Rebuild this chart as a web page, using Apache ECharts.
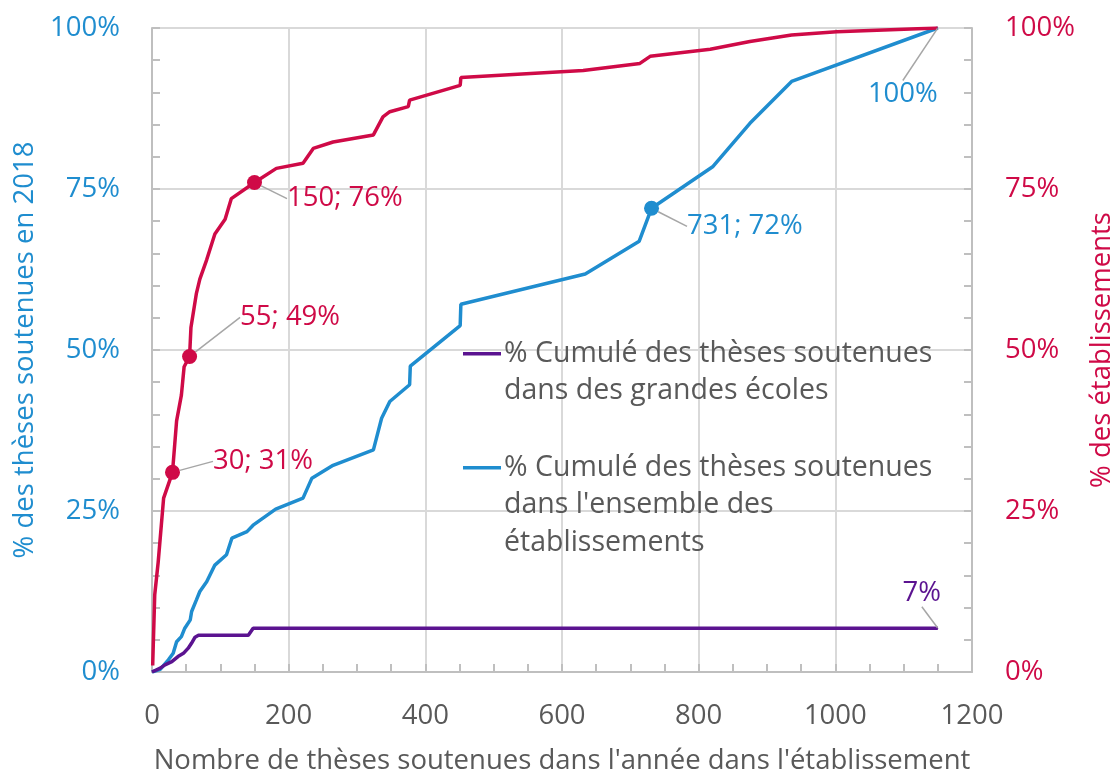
<!DOCTYPE html>
<html>
<head>
<meta charset="utf-8">
<script src="https://cdn.jsdelivr.net/npm/echarts@6/dist/echarts.min.js"></script>
<style>
html,body{margin:0;padding:0;background:#fff;}
#chart{width:1118px;height:778px;}
</style>
</head>
<body>
<div id="chart"></div>
<script>
// % cumulé des établissements (axe de droite)
var etabX   = [1, 4, 9, 17, 30, 36, 43, 47, 55, 57, 65, 70, 80, 92, 107, 116, 150, 182, 221, 236, 265, 324, 338, 348, 375, 377, 451, 452, 631, 714, 729, 817, 875, 936, 1002, 1150];
var etabPct = [1, 12, 17, 27, 31, 39, 43, 47.4, 49, 53.5, 58.8, 61, 64, 68, 70.3, 73.5, 76, 78.2, 79, 81.3, 82.3, 83.4, 86.2, 87, 87.8, 88.8, 91.1, 92.3, 93.4, 94.5, 95.6, 96.7, 97.9, 98.9, 99.4, 100];
// % cumulé des thèses, ensemble des établissements (axe de gauche)
var allX   = [0, 12, 24, 31, 36, 43, 48, 56, 58, 65, 70, 80, 92, 109, 117, 139, 148, 181, 221, 234, 265, 324, 336, 348, 377, 378, 451, 452, 634, 713, 731, 821, 875, 936, 1150];
var allPct = [0, 0.4, 1.9, 2.9, 4.7, 5.5, 6.8, 8.1, 9.4, 11.2, 12.5, 14, 16.6, 18.2, 20.8, 21.8, 22.8, 25.3, 27, 30.1, 32.1, 34.5, 39.4, 42, 44.6, 47.5, 53.8, 57.1, 61.8, 66.9, 72, 78.5, 85.2, 91.7, 100];
// % cumulé des thèses, grandes écoles (axe de gauche)
var geX   = [0, 12, 19, 29, 38, 46, 53, 58, 63, 68, 141, 148, 1150];
var gePct = [0, 0.6, 1.1, 1.6, 2.4, 2.9, 3.7, 4.5, 5.4, 5.7, 5.7, 6.8, 6.8];

// points étiquetés
var etabLabelled = [30, 55, 150];
var allLabelled = [731];
var endLabelled = [1150];

var nameEtab = '% des établissements';
var nameAll = "% Cumulé des thèses soutenues dans l'ensemble des établissements";
var nameGe = '% Cumulé des thèses soutenues dans des grandes écoles';

var BLUE = '#1f8dcf', RED = '#cf0a47', PURPLE = '#5b1390', GREY = '#595959';
var FONT = 'Open Sans';

// décalages des étiquettes (dx, dy), par série
var offEtab = {30: [28, -11], 55: [38, -39], 150: [20, 16]};
var offAll = {731: [23, 18], 1150: [-35, 47]};
var offGe = {1150: [-16, -16]};

function build(xs, ys, pointed, ends) {
  return xs.map(function (x, i) {
    var item = {value: [x, ys[i]]};
    if (pointed.indexOf(x) >= 0) {
      item.symbol = 'circle';
      item.symbolSize = 15;
      item.label = {show: true, position: 'right', formatter: x + '; ' + Math.round(ys[i]) + '%'};
    } else if (ends.indexOf(x) >= 0) {
      item.symbol = 'circle';
      item.symbolSize = 1;
      item.label = {show: true, position: ys[i] > 50 ? 'bottom' : 'top', formatter: Math.round(ys[i]) + '%'};
    }
    return item;
  });
}

function layoutFn(xs, offs) {
  return function (p) {
    var o = offs[xs[p.dataIndex]];
    return o ? {dx: o[0], dy: o[1]} : {};
  };
}

function lineSeries(name, xs, ys, pointed, ends, offs, color, yIdx) {
  return {
    name: name,
    type: 'line',
    yAxisIndex: yIdx,
    symbol: 'none',
    data: build(xs, ys, pointed, ends),
    lineStyle: {color: color, width: 3.5},
    itemStyle: {color: color},
    label: {color: color, fontSize: 27.5, fontFamily: FONT},
    labelLine: {show: true, lineStyle: {color: '#a6a6a6', width: 1.5}},
    labelLayout: layoutFn(xs, offs),
    emphasis: {disabled: true}
  };
}

var chart = echarts.init(document.getElementById('chart'));

var axisLineStyle = {color: '#bfbfbf', width: 2};

chart.setOption({
  animation: false,
  textStyle: {fontFamily: FONT},
  grid: {left: 152, right: 146, top: 28, bottom: 106, containLabel: false, outerBoundsMode: 'none'},
  legend: {
    data: [nameGe, nameAll],
    orient: 'vertical',
    left: 452,
    top: 330,
    itemWidth: 0,
    itemHeight: 0,
    itemGap: 39,
    selectedMode: false,
    formatter: function (name) {
      if (name === nameGe) {
        return '{lg|}{t|% Cumulé des thèses soutenues}\n{sp|}{t|dans des grandes écoles}';
      }
      return "{la|}{t|% Cumulé des thèses soutenues}\n{sp|}{t|dans l'ensemble des}\n{sp|}{t|établissements}";
    },
    textStyle: {
      color: GREY, fontSize: 28.5, fontFamily: FONT, lineHeight: 37.5,
      rich: {
        t: {color: GREY, fontSize: 28.5, fontFamily: FONT, lineHeight: 37.5, padding: [0, 0, 0, 3], verticalAlign: 'middle'},
        lg: {width: 38, height: 3.5, backgroundColor: PURPLE, verticalAlign: 'middle'},
        la: {width: 38, height: 3.5, backgroundColor: BLUE, verticalAlign: 'middle'},
        sp: {width: 38, height: 3.5, verticalAlign: 'middle'}
      }
    }
  },
  xAxis: {
    type: 'value',
    min: 0, max: 1200, interval: 200,
    name: "Nombre de thèses soutenues dans l'année dans l'établissement",
    nameLocation: 'middle',
    nameGap: 75,
    nameTextStyle: {color: GREY, fontSize: 27.5, fontFamily: FONT},
    axisLine: {lineStyle: axisLineStyle},
    axisTick: {show: true, inside: true, length: 8, lineStyle: axisLineStyle},
    minorTick: {show: true, splitNumber: 4, length: 8, lineStyle: axisLineStyle},
    axisLabel: {color: GREY, fontSize: 27.5, fontFamily: FONT, margin: 30, formatter: function (v) { return String(v); }},
    splitLine: {show: true, lineStyle: {color: '#d9d9d9', width: 2}}
  },
  yAxis: [{
    type: 'value',
    min: 0, max: 100, interval: 25,
    position: 'left',
    name: '% des thèses soutenues en 2018',
    nameLocation: 'middle',
    nameGap: 112,
    nameTextStyle: {color: BLUE, fontSize: 27.5, fontFamily: FONT},
    axisLine: {show: true, lineStyle: axisLineStyle},
    axisTick: {show: true, inside: true, length: 8, lineStyle: axisLineStyle},
    minorTick: {show: true, splitNumber: 5, length: 8, lineStyle: axisLineStyle},
    axisLabel: {color: BLUE, fontSize: 27.5, fontFamily: FONT, margin: 32, formatter: '{value}%'},
    splitLine: {show: true, lineStyle: {color: '#d9d9d9', width: 2}}
  }, {
    type: 'value',
    min: 0, max: 100, interval: 25,
    position: 'right',
    name: nameEtab,
    nameLocation: 'middle',
    nameGap: 116,
    nameTextStyle: {color: RED, fontSize: 27.5, fontFamily: FONT},
    axisLine: {show: true, lineStyle: axisLineStyle},
    axisTick: {show: true, inside: true, length: 8, lineStyle: axisLineStyle},
    minorTick: {show: true, splitNumber: 5, length: 8, lineStyle: axisLineStyle},
    axisLabel: {color: RED, fontSize: 27.5, fontFamily: FONT, margin: 33, formatter: '{value}%'},
    splitLine: {show: false}
  }],
  series: [
    lineSeries(nameAll, allX, allPct, allLabelled, endLabelled, offAll, BLUE, 0),
    lineSeries(nameGe, geX, gePct, [], endLabelled, offGe, PURPLE, 0),
    lineSeries(nameEtab, etabX, etabPct, etabLabelled, [], offEtab, RED, 1)
  ]
});
</script>
</body>
</html>
